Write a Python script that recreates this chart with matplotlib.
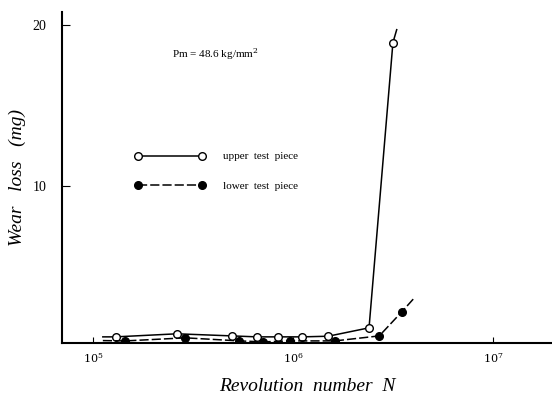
import numpy as np
import matplotlib.pyplot as plt

# Wear loss vs revolution number
upper_n = [1.12e5, 1.30e5, 2.63e5, 4.95e5, 6.6e5, 8.4e5, 1.11e6, 1.50e6, 2.4e6, 3.16e6, 3.3e6]
upper_w = [0.68, 0.68, 0.87, 0.74, 0.68, 0.68, 0.68, 0.72, 1.24, 18.9, 19.7]

lower_n = [1.12e5, 1.45e5, 2.9e5, 5.4e5, 7.1e5, 9.7e5, 1.62e6, 2.7e6, 3.5e6, 4.0e6]
lower_w = [0.45, 0.43, 0.62, 0.43, 0.37, 0.43, 0.43, 0.74, 2.23, 3.03]

x_ticks = [1e5, 1e6, 1e7]
x_ticklabels = ['$10^5$', '$10^6$', '$10^7$']
y_ticks = [10, 20]

plt.rcParams['font.family'] = ['Liberation Serif', 'DejaVu Serif']
plt.rcParams['mathtext.fontset'] = 'dejavuserif'

fig = plt.figure(figsize=(5.52, 3.97), dpi=100)
ax = fig.add_axes([0.1123, 0.136, 0.8877, 0.834])

# open circles mark the measured points; the first/last entries are line ends only
ax.plot(upper_n, upper_w, '-', color='black', lw=1.1)
ax.plot(upper_n[1:-1], upper_w[1:-1], 'o', ms=5.5, mfc='white', mec='black', mew=1.0)
ax.plot(lower_n, lower_w, '--', color='black', lw=1.1, dashes=(6, 2))
ax.plot(lower_n[1:-1], lower_w[1:-1], 'o', ms=5.5, mfc='black', mec='black')

# legend handles
h_up, = ax.plot([], [], '-o', color='black', lw=1.1, ms=5.5, mfc='white', mec='black')
h_lo, = ax.plot([], [], '--o', color='black', lw=1.1, ms=5.5, mfc='black', dashes=(6, 2))
ax.legend([h_up, h_lo], ['upper  test  piece', 'lower  test  piece'],
          loc='upper left', bbox_to_anchor=(0.149, 0.578), frameon=False,
          numpoints=2, handlelength=6.3, handletextpad=1.6, labelspacing=1.75,
          borderpad=0, borderaxespad=0, fontsize=8)

ax.text(0.225, 0.862, 'Pm = 48.6 kg/mm$^2$', transform=ax.transAxes, fontsize=8)

ax.set_xscale('log')
ax.set_xlim(10**4.845, 10**7.295)
ax.set_ylim(0.3, 20.8)
ax.set_xticks(x_ticks)
ax.set_xticklabels(x_ticklabels, fontsize=8)
ax.minorticks_off()
ax.set_yticks(y_ticks)
ax.tick_params(axis='y', direction='in', length=6, labelsize=10, pad=11)
ax.tick_params(axis='x', direction='in', length=4, labelsize=8, pad=6)

ax.spines['top'].set_visible(False)
ax.spines['right'].set_visible(False)
ax.spines['left'].set_linewidth(1.5)
ax.spines['bottom'].set_linewidth(1.5)

ax.set_xlabel('Revolution  number  N', fontsize=14, style='italic', labelpad=9)
ax.set_ylabel('Wear   loss   (mg)', fontsize=14, style='italic', labelpad=5)

fig.savefig('out.png', dpi=100)
